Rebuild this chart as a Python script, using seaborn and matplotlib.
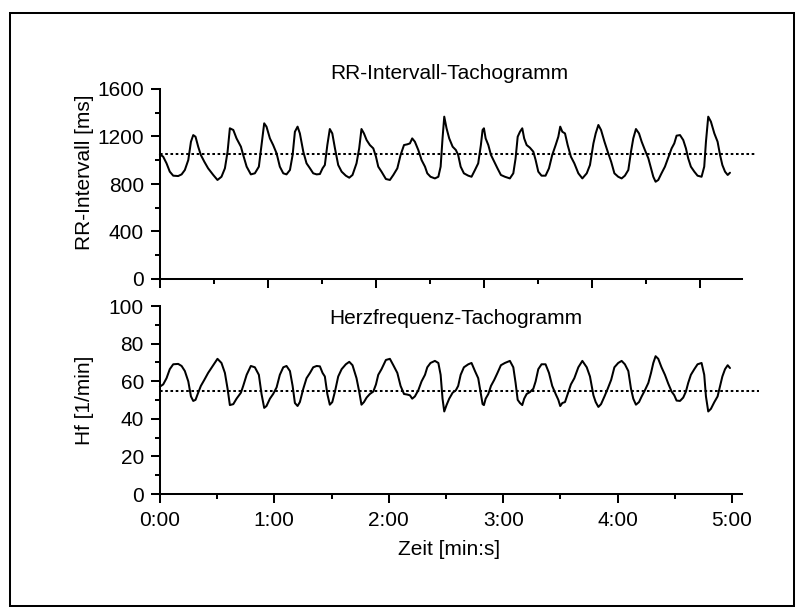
import numpy as np
import pandas as pd
import matplotlib
matplotlib.use("Agg")
import matplotlib.pyplot as plt
from matplotlib.patches import Rectangle
import seaborn as sns

# ---------------- data (time in seconds) ----------------
time_s = [
    0, 1.75, 3.5, 5.2, 7.0, 9.6, 11.4, 13.1, 14.9, 16.3, 17.5, 18.7, 20.1, 21.5, 23.3, 25.3,
    28.0, 30.2, 32.3, 34.1, 35.5, 36.7, 38.5, 40.2, 42.5, 43.7, 45.5, 47.7, 49.8, 51.9, 53.3,
    54.7, 55.9, 57.7, 59.4, 61.2, 62.9, 64.7, 66.4, 68.2, 69.6, 70.8, 72.2, 73.4, 75.2, 76.9,
    78.7, 80.4, 82.2, 83.9, 85.3, 86.5, 87.8, 89.1, 90.4, 91.8, 93.5, 95.3, 97.5, 99.3, 101.0,
    103.1, 104.5, 105.7, 107.0, 108.4, 110.1, 111.9, 113.3, 114.5, 116.2, 118.5, 120.6, 122.4,
    124.5, 126.2, 128.0, 129.7, 131.1, 132.3, 133.7, 135.5, 137.2, 139.0, 140.2, 141.9, 144.2,
    146.0, 147.2, 148.2, 149.1, 150.3, 151.7, 153.5, 155.2, 156.4, 157.7, 159.4, 161.7,
    163.4, 165.2, 166.9, 168.3, 169.2, 169.9, 170.8, 172.2, 173.6, 175.3, 177.0, 178.8, 180.9,
    183.5, 185.3, 186.5, 187.6, 188.8, 190.0, 191.0, 192.3, 194.0, 195.8, 197.0, 198.4, 200.1,
    202.2, 204.0, 205.7, 207.5, 208.9, 209.9, 211.0, 212.4, 213.8, 215.5, 217.3, 219.4, 221.5,
    223.8, 225.5, 227.3, 228.5, 229.9, 231.3, 233.1, 234.8, 236.6, 238.3,
    240.3, 242.1, 243.8, 245.6, 247.0, 248.2, 249.6, 251.2, 252.6, 254.3, 256.1, 257.5, 258.7,
    259.9, 261.3, 263.0, 264.8, 266.5, 268.3, 269.7, 270.9, 272.7, 274.4, 275.8, 277.0, 278.4,
    280.2, 281.9, 284.0, 285.4, 286.3, 287.5, 288.9, 290.7, 292.4, 293.7, 294.9, 296.3, 297.7,
    298.9,
]

rr_ms = [
    1050, 1030, 974, 904, 870, 867, 881, 918, 1002, 1156, 1212, 1198, 1114, 1044, 988, 932,
    876, 834, 861, 932, 1072, 1269, 1255, 1184, 1114, 1044, 946, 881, 890, 946, 1128,
    1311, 1283, 1184, 1128, 1058, 946, 890, 881, 918, 1044, 1240, 1283, 1226, 1072, 974,
    932, 890, 881, 884, 932, 960, 1128, 1263, 1226, 1100, 960, 904, 870, 853, 876,
    974, 1100, 1263, 1226, 1170, 1128, 1100, 1030, 946, 904, 842, 834, 876,
    932, 1044, 1128, 1134, 1142, 1184, 1156, 1086, 1002, 946, 890, 861, 847,
    861, 946, 1184, 1367, 1269, 1184, 1114, 1086, 1044, 946, 890, 870,
    861, 918, 974, 1128, 1255, 1269, 1184, 1128, 1044, 988, 932, 876, 861,
    847, 890, 1016, 1198, 1240, 1269, 1184, 1128, 1106, 1072, 1002, 904, 870,
    870, 932, 1044, 1128, 1198, 1283, 1240, 1226, 1128, 1030, 974, 890, 847,
    890, 960, 1142, 1226, 1297, 1255, 1156, 1072, 988, 890,
    861, 847, 870, 918, 1072, 1184, 1263, 1226, 1156, 1086, 1016, 932, 861,
    819, 834, 890, 946, 1021, 1100, 1142, 1207, 1212, 1170, 1100, 1016, 946,
    904, 870, 861, 946, 1156, 1367, 1325, 1226, 1156, 1044, 960, 904, 876,
    895,
]

hf_bpm = [
    57.1, 58.3, 61.6, 66.4, 69.0, 69.2, 68.1, 65.4, 59.9, 51.9, 49.5, 50.1, 53.9, 57.5, 60.7, 64.4,
    68.5, 71.9, 69.7, 64.4, 56.0, 47.3, 47.8, 50.7, 53.9, 57.5, 63.4, 68.1, 67.4, 63.4, 53.2,
    45.8, 46.8, 50.7, 53.2, 56.7, 63.4, 67.4, 68.1, 65.4, 57.5, 48.4, 46.8, 48.9, 56.0, 61.6,
    64.4, 67.4, 68.1, 67.9, 64.4, 62.5, 53.2, 47.5, 48.9, 54.5, 62.5, 66.4, 69.0, 70.3, 68.5,
    61.6, 54.5, 47.5, 48.9, 51.3, 53.2, 54.5, 58.3, 63.4, 66.4, 71.3, 71.9, 68.5,
    64.4, 57.5, 53.2, 52.9, 52.5, 50.7, 51.9, 55.2, 59.9, 63.4, 67.4, 69.7, 70.8,
    69.7, 63.4, 50.7, 43.9, 47.3, 50.7, 53.9, 55.2, 57.5, 63.4, 67.4, 69.0,
    69.7, 65.4, 61.6, 53.2, 47.8, 47.3, 50.7, 53.2, 57.5, 60.7, 64.4, 68.5, 69.7,
    70.8, 67.4, 59.1, 50.1, 48.4, 47.3, 50.7, 53.2, 54.2, 56.0, 59.9, 66.4, 69.0,
    69.0, 64.4, 57.5, 53.2, 50.1, 46.8, 48.4, 48.9, 53.2, 58.3, 61.6, 67.4, 70.8,
    67.4, 62.5, 52.5, 48.9, 46.3, 47.8, 51.9, 56.0, 60.7, 67.4,
    69.7, 70.8, 69.0, 65.4, 56.0, 50.7, 47.5, 48.9, 51.9, 55.2, 59.1, 64.4, 69.7,
    73.3, 71.9, 67.4, 63.4, 58.8, 54.5, 52.5, 49.7, 49.5, 51.3, 54.5, 59.1, 63.4,
    66.4, 69.0, 69.7, 63.4, 51.9, 43.9, 45.3, 48.9, 51.9, 57.5, 62.5, 66.4, 68.5,
    67.0,
]

rr_mean_line = [1050, 1050]
rr_mean_t = [0, 312.5]
hf_mean_line = [55, 55]
hf_mean_t = [0, 314]

top_title = "RR-Intervall-Tachogramm"
bottom_title = "Herzfrequenz-Tachogramm"
rr_label = "RR-Intervall [ms]"
hf_label = "Hf [1/min]"
x_label = "Zeit [min:s]"
x_major = [0, 60, 120, 180, 240, 300]
x_major_labels = ["0:00", "1:00", "2:00", "3:00", "4:00", "5:00"]
x_minor = [30, 90, 150, 210, 270]
top_x_ticks_major = [0, 56.7, 113.4, 170.0, 226.7, 283.4]
top_x_ticks_minor = [28.3, 85.0, 141.7, 198.4, 255.1]
rr_yticks = [0, 400, 800, 1200, 1600]
rr_yminor = [200, 600, 1000, 1400]
hf_yticks = [0, 20, 40, 60, 80, 100]
hf_yminor = [10, 30, 50, 70, 90]

df = pd.DataFrame({"t": time_s, "rr": rr_ms, "hf": hf_bpm})

# ---------------- style ----------------
sns.set_style("ticks")
plt.rcParams["font.family"] = ["Liberation Sans", "DejaVu Sans"]
plt.rcParams["text.color"] = "black"
plt.rcParams["axes.labelcolor"] = "black"
plt.rcParams["xtick.color"] = "black"
plt.rcParams["ytick.color"] = "black"
FS = 15
LW = 1.45

fig = plt.figure(figsize=(8.01, 6.12), dpi=100)
W, H = 801.0, 612.0
ax1 = fig.add_axes([157 / W, 1 - 279 / H, (742 - 157) / W, 190 / H])
ax2 = fig.add_axes([157 / W, 1 - 494 / H, (742 - 157) / W, 188 / H])

sns.lineplot(data=df, x="t", y="rr", ax=ax1, color="black", lw=LW, estimator=None)
sns.lineplot(data=df, x="t", y="hf", ax=ax2, color="black", lw=LW, estimator=None)
ax1.plot(rr_mean_t, rr_mean_line, color="black", lw=LW, linestyle=(0, (1.3, 1.3)), clip_on=False)
ax2.plot(hf_mean_t, hf_mean_line, color="black", lw=LW, linestyle=(0, (1.3, 1.3)), clip_on=False)

for ax in (ax1, ax2):
    ax.set_xlim(-1.5, 305.2)
    for s in ("top", "right"):
        ax.spines[s].set_visible(False)
    for s in ("left", "bottom"):
        ax.spines[s].set_linewidth(LW)
        ax.spines[s].set_color("black")
    ax.spines["left"].set_position(("data", 0))
    ax.tick_params(which="major", direction="out", length=6.5, width=LW, color="black",
                   labelsize=FS, pad=5, labelcolor="black")
    ax.tick_params(which="minor", direction="out", length=3.5, width=LW, color="black")
    ax.set_xlabel("")
    ax.set_ylabel("")

ax1.set_ylim(0, 1600)
ax1.set_yticks(rr_yticks)
ax1.set_yticks(rr_yminor, minor=True)
ax1.set_xticks(top_x_ticks_major)
ax1.set_xticks(top_x_ticks_minor, minor=True)
ax1.set_xticklabels([])

ax2.set_ylim(0, 100)
ax2.set_yticks(hf_yticks)
ax2.set_yticks(hf_yminor, minor=True)
ax2.set_xticks(x_major)
ax2.set_xticklabels(x_major_labels)
ax2.set_xticks(x_minor, minor=True)
ax2.tick_params(axis="x", which="major", pad=6)

ax1.set_ylabel(rr_label, fontsize=FS)
ax1.yaxis.set_label_coords(-0.108, 0.56)
ax2.set_ylabel(hf_label, fontsize=FS)
ax2.yaxis.set_label_coords(-0.108, 0.5)
ax2.set_xlabel(x_label, fontsize=FS)
ax2.xaxis.set_label_coords(0.5, -0.245)

ax1.text(0.5, 1.079, top_title, transform=ax1.transAxes, ha="center", va="center", fontsize=FS)
ax2.text(0.51, 0.936, bottom_title, transform=ax2.transAxes, ha="center", va="center", fontsize=FS)

fig.patches.append(Rectangle((10 / W, 1 - 606 / H), (794 - 10) / W, (606 - 13) / H,
                             transform=fig.transFigure, fill=False, edgecolor="black",
                             lw=LW, zorder=10))

fig.savefig("out.png", dpi=100, facecolor="white")
